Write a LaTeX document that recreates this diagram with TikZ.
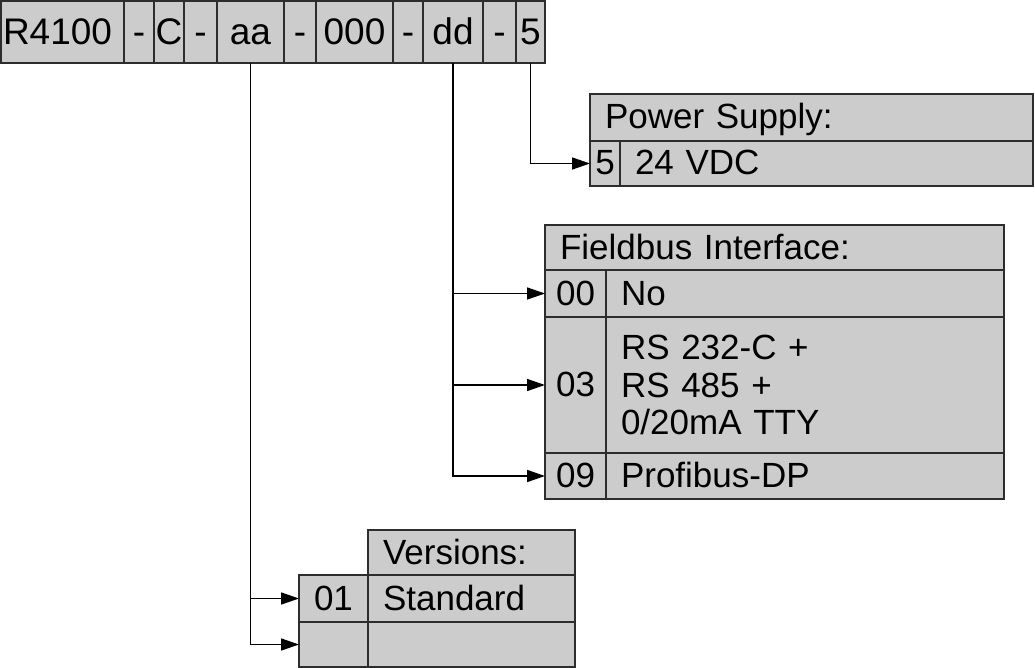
\documentclass[tikz,border=0pt]{standalone}
\usepackage{fontspec}
\setmainfont[WordSpace=0.8]{Liberation Sans}
\usetikzlibrary{arrows.meta}
\definecolor{cellc}{RGB}{204,204,204}
\definecolor{linec}{RGB}{45,45,45}
\newcommand\cellbodyfont{\fontsize{35}{37.5}\selectfont}
\newcommand\cellnumfont{\fontsize{35}{37.5}\selectfont}
\newcommand\cellbarfont{\fontsize{37}{40}\selectfont}
\tikzset{
  base/.style={draw=linec, fill=cellc, line width=1.5pt, anchor=north west, inner ysep=0pt, outer sep=0pt},
  tcell/.style={base, inner xsep=0pt, font=\cellbarfont, text height=26.5pt, text depth=1pt},
  ccell/.style={base, inner xsep=0pt, font=\cellnumfont, text height=25pt, text depth=2pt},
  lcell/.style={base, inner xsep=15pt, align=left, font=\cellbodyfont, text height=25pt, text depth=2pt},
  mcell/.style={base, inner xsep=15pt, align=left, font=\cellbodyfont},
  arr/.style={draw=black, line width=1.5pt, -{Triangle[length=18pt,width=12pt]}},
}
\begin{document}
\begin{tikzpicture}[x=1pt,y=-1pt]
\useasboundingbox (0,0) rectangle (1035,668);
% top code bar
\node[tcell, inner xsep=2pt, align=left, text width=119pt, minimum height=62pt] (t1) at (1,1) {R4100};
\node[tcell, minimum width=30pt, minimum height=62pt] (t2) at (124,1) {-};
\node[tcell, minimum width=30pt, minimum height=62pt] (t3) at (154,1) {C};
\node[tcell, minimum width=33pt, minimum height=62pt] (t4) at (184,1) {-};
\node[tcell, minimum width=67pt, minimum height=62pt] (aa) at (217,1) {aa};
\node[tcell, minimum width=32pt, minimum height=62pt] (t6) at (284,1) {-};
\node[tcell, minimum width=77pt, minimum height=62pt] (t7) at (316,1) {000};
\node[tcell, minimum width=30pt, minimum height=62pt] (t8) at (393,1) {-};
\node[tcell, minimum width=60pt, minimum height=62pt] (dd) at (423,1) {dd};
\node[tcell, minimum width=33pt, minimum height=62pt] (t10) at (483,1) {-};
\node[tcell, minimum width=29pt, minimum height=62pt] (c5) at (516,1) {5};
% power supply
\node[lcell, text width=413pt, minimum height=47pt] (ph) at (590,94) {Power Supply:};
\node[ccell, minimum width=30pt, minimum height=45pt] (p5) at (590,141) {5};
\node[lcell, text width=383pt, minimum height=45pt] (pt) at (620,141) {24 VDC};
% fieldbus interface
\node[lcell, text width=429pt, minimum height=45pt] (fh) at (545,225) {Fieldbus Interface:};
\node[ccell, minimum width=61pt, minimum height=47pt] (f00) at (545,270) {00};
\node[lcell, text width=368pt, minimum height=47pt] (f00t) at (606,270) {No};
\node[ccell, minimum width=61pt, minimum height=136pt] (f03) at (545,317) {03};
\node[mcell, text width=368pt, minimum height=136pt] (f03t) at (606,317) {RS 232-C +\\RS 485 +\\0/20mA TTY};
\node[ccell, minimum width=61pt, minimum height=46pt] (f09) at (545,453) {09};
\node[lcell, text width=368pt, minimum height=46pt] (f09t) at (606,453) {Profibus-DP};
% versions
\node[lcell, text width=177pt, minimum height=45pt] (vh) at (368,530) {Versions:};
\node[ccell, minimum width=69pt, minimum height=47pt] (v1) at (299,575) {01};
\node[lcell, text width=177pt, minimum height=47pt] (v1t) at (368,575) {Standard};
\node[ccell, minimum width=69pt, minimum height=45pt] (v2) at (299,622) {};
\node[lcell, text width=177pt, minimum height=45pt] (v2t) at (368,622) {};
% connectors
\draw[arr] (c5.south) |- (p5.west);
\draw[arr] (dd.south) |- (f09.west);
\draw[arr] (dd.south |- f00.west) -- (f00.west);
\draw[arr] (dd.south |- f03.west) -- (f03.west);
\draw[arr] (aa.south) |- (v2.west);
\draw[arr] (aa.south |- v1.west) -- (v1.west);
\end{tikzpicture}
\end{document}
